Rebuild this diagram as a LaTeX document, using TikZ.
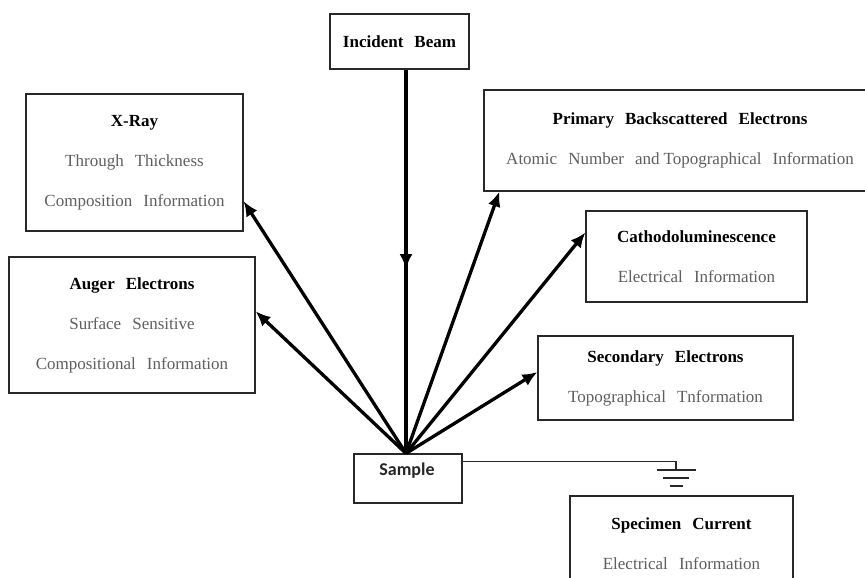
\documentclass[tikz,border=0pt]{standalone}
\usepackage{fontspec}
\setmainfont{Liberation Serif}[WordSpace=2.6]
\newfontfamily\samplefont{Carlito}
\usetikzlibrary{arrows.meta,calc,decorations.markings}
\definecolor{bodygray}{RGB}{95,95,95}
\definecolor{boxline}{RGB}{40,40,40}
\newcommand\boxtitle[1]{{\bfseries\color{black}#1}}
\newcommand\boxbody[1]{{\color{bodygray}#1}}
\tikzset{
  infobox/.style={draw=boxline, line width=1.2pt, align=center, inner sep=0pt,
    font=\fontsize{17}{40}\selectfont},
  emission/.style={line width=3.3pt, -{Latex[length=15pt,width=13pt]}},
  wire/.style={draw=boxline, line width=1.3pt}
}
\begin{document}
\begin{tikzpicture}[x=1pt,y=-1pt]
\useasboundingbox[fill=white] (0,0) rectangle (865,578);

\node[infobox, minimum width=139, minimum height=55] (inc) at (399.5,41.5) {\boxtitle{Incident Beam}};
\node[infobox, minimum width=217, minimum height=137] (xray) at (134.5,162.5)
  {\boxtitle{X-Ray}\\ \boxbody{Through Thickness}\\ \boxbody{Composition Information}};
\node[infobox, minimum width=246, minimum height=136] (auger) at (132,325)
  {\boxtitle{Auger Electrons}\\ \boxbody{Surface Sensitive}\\ \boxbody{Compositional Information}};
\node[infobox, minimum width=392, minimum height=101] (prim) at (680,140.5)
  {\boxtitle{Primary Backscattered Electrons}\\ \boxbody{Atomic Number and\hspace{4pt}Topographical Information}};
\node[infobox, minimum width=221, minimum height=91] (cath) at (696.5,256.5)
  {\boxtitle{Cathodoluminescence}\\ \boxbody{Electrical Information}};
\node[infobox, minimum width=255, minimum height=84] (sec) at (665.5,378)
  {\boxtitle{Secondary Electrons}\\ \boxbody{Topographical Tnformation}};
\node[infobox, minimum width=223, minimum height=95] (spec) at (681.5,543.5)
  {\boxtitle{Specimen Current}\\ \boxbody{Electrical Information}};

\node[draw=boxline, line width=1.2pt, minimum width=108, minimum height=49, inner sep=0pt] (sample) at (408,478.5) {};
\node[font=\samplefont\bfseries\fontsize{18}{20}\selectfont, text=black!85] (samplelbl) at (407,471) {Sample};

\coordinate (src) at ($(sample.north)+(-2,0)$);
\coordinate (inctop) at (inc.south -| src);

\draw[line width=3.3pt, postaction={decorate},
  decoration={markings, mark=at position 0.52 with {\arrow{Latex[length=15pt,width=13pt]}}}]
  (inctop) -- (src);

\draw[emission] (src) -- ($(xray.south east)!0.22!(xray.north east)$);
\draw[emission] (src) -- ($(auger.south east)!0.6!(auger.north east)$);
\draw[emission] (src) -- ($(prim.south west)+(16,0)$);
\draw[emission] (src) -- ($(cath.south west)!0.76!(cath.north west)$);
\draw[emission] (src) -- ($(sec.south west)!0.57!(sec.north west)$);

\coordinate (wirestart) at ($(sample.north east)!0.163!(sample.south east)$);
\coordinate (gnd) at (676,470);
\draw[wire] (wirestart) -| (gnd);
\draw[wire] ($(gnd)+(-19.5,0)$) -- ($(gnd)+(19.5,0)$);
\draw[wire] ($(gnd)+(-13,8)$) -- ($(gnd)+(13,8)$);
\draw[wire] ($(gnd)+(-6.5,16)$) -- ($(gnd)+(6.5,16)$);
\end{tikzpicture}
\end{document}
